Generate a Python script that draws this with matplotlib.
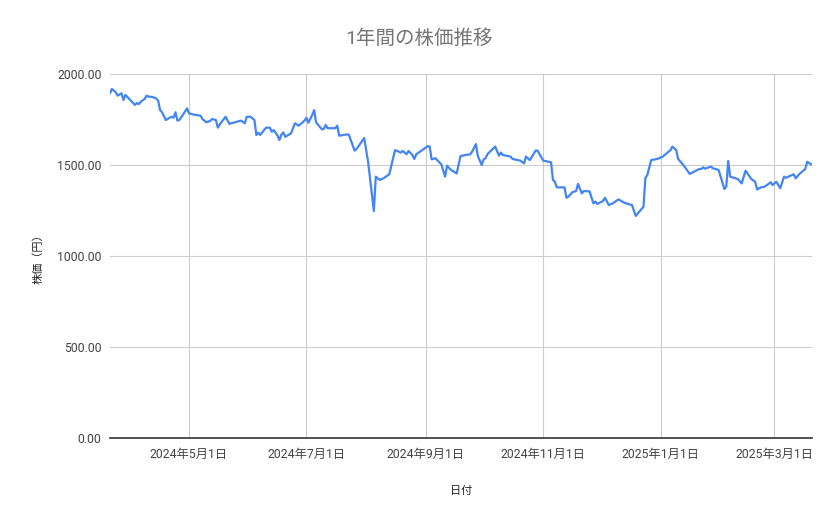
import matplotlib
matplotlib.use('Agg')
from matplotlib import pyplot as plt
import pandas as pd

plt.rcParams['font.family'] = ['Roboto', 'Noto Sans CJK JP', 'DejaVu Sans']

dates = [
    '2024-03-21', '2024-03-22', '2024-03-24', '2024-03-25', '2024-03-26', '2024-03-27',
    '2024-03-28', '2024-03-29', '2024-04-03', '2024-04-04', '2024-04-05', '2024-04-06',
    '2024-04-08', '2024-04-09', '2024-04-10', '2024-04-12', '2024-04-14', '2024-04-15',
    '2024-04-16', '2024-04-17', '2024-04-19', '2024-04-21', '2024-04-22', '2024-04-23',
    '2024-04-24', '2024-04-25', '2024-04-26', '2024-04-28', '2024-04-30', '2024-05-01',
    '2024-05-03', '2024-05-07', '2024-05-08', '2024-05-10', '2024-05-12', '2024-05-13',
    '2024-05-15', '2024-05-16', '2024-05-17', '2024-05-20', '2024-05-22', '2024-05-24',
    '2024-05-28', '2024-05-30', '2024-05-31', '2024-06-02', '2024-06-04', '2024-06-05',
    '2024-06-06', '2024-06-07', '2024-06-10', '2024-06-12', '2024-06-13', '2024-06-14',
    '2024-06-16', '2024-06-17', '2024-06-18', '2024-06-19', '2024-06-20', '2024-06-23',
    '2024-06-25', '2024-06-27', '2024-06-30', '2024-07-01', '2024-07-02', '2024-07-04',
    '2024-07-05', '2024-07-06', '2024-07-09', '2024-07-10', '2024-07-11', '2024-07-12',
    '2024-07-16', '2024-07-17', '2024-07-18', '2024-07-22', '2024-07-23', '2024-07-26',
    '2024-07-27', '2024-07-31', '2024-08-02', '2024-08-05', '2024-08-06', '2024-08-08',
    '2024-08-10', '2024-08-13', '2024-08-16', '2024-08-18', '2024-08-19', '2024-08-20',
    '2024-08-22', '2024-08-23', '2024-08-25', '2024-08-26', '2024-08-27', '2024-08-31',
    '2024-09-02', '2024-09-03', '2024-09-04', '2024-09-06', '2024-09-09', '2024-09-11',
    '2024-09-12', '2024-09-14', '2024-09-17', '2024-09-19', '2024-09-22', '2024-09-24',
    '2024-09-25', '2024-09-27', '2024-09-28', '2024-09-30', '2024-10-01', '2024-10-02',
    '2024-10-03', '2024-10-07', '2024-10-09', '2024-10-10', '2024-10-11', '2024-10-15',
    '2024-10-16', '2024-10-20', '2024-10-22', '2024-10-23', '2024-10-25', '2024-10-28',
    '2024-10-29', '2024-10-30', '2024-11-01', '2024-11-05', '2024-11-06', '2024-11-07',
    '2024-11-08', '2024-11-12', '2024-11-13', '2024-11-14', '2024-11-16', '2024-11-18',
    '2024-11-19', '2024-11-21', '2024-11-22', '2024-11-25', '2024-11-27', '2024-11-28',
    '2024-11-29', '2024-12-02', '2024-12-03', '2024-12-05', '2024-12-07', '2024-12-10',
    '2024-12-13', '2024-12-15', '2024-12-17', '2024-12-19', '2024-12-23', '2024-12-24',
    '2024-12-25', '2024-12-27', '2024-12-30', '2025-01-02', '2025-01-06', '2025-01-07',
    '2025-01-09', '2025-01-10', '2025-01-13', '2025-01-16', '2025-01-19', '2025-01-21',
    '2025-01-22', '2025-01-23', '2025-01-24', '2025-01-27', '2025-01-28', '2025-01-31',
    '2025-02-03', '2025-02-04', '2025-02-05', '2025-02-06', '2025-02-10', '2025-02-12',
    '2025-02-14', '2025-02-17', '2025-02-19', '2025-02-20', '2025-02-22', '2025-02-24',
    '2025-02-27', '2025-02-28', '2025-03-02', '2025-03-04', '2025-03-06', '2025-03-07',
    '2025-03-11', '2025-03-12', '2025-03-14', '2025-03-17', '2025-03-18', '2025-03-20',
]

prices = [
    1895, 1918, 1899, 1881, 1888, 1894,
    1857, 1885, 1830, 1841, 1834, 1848,
    1863, 1881, 1876, 1874, 1866, 1853,
    1802, 1790, 1747, 1760, 1765, 1760,
    1790, 1744, 1747, 1778, 1811, 1784,
    1778, 1771, 1753, 1735, 1742, 1753,
    1747, 1705, 1723, 1765, 1726, 1732,
    1744, 1729, 1765, 1765, 1747, 1665,
    1677, 1665, 1705, 1705, 1683, 1692,
    1661, 1637, 1668, 1679, 1655, 1674,
    1729, 1716, 1744, 1760, 1732, 1775,
    1802, 1734, 1696, 1698, 1720, 1702,
    1702, 1716, 1661, 1668, 1666, 1579,
    1588, 1648, 1518, 1247, 1436, 1418,
    1427, 1449, 1582, 1573, 1568, 1577,
    1559, 1577, 1555, 1533, 1559, 1588,
    1604, 1601, 1531, 1537, 1504, 1436,
    1496, 1473, 1454, 1549, 1556, 1558,
    1573, 1615, 1549, 1500, 1531, 1537,
    1560, 1601, 1551, 1568, 1555, 1546,
    1533, 1524, 1509, 1546, 1527, 1579,
    1579, 1560, 1524, 1515, 1418, 1408,
    1377, 1377, 1320, 1326, 1350, 1357,
    1396, 1344, 1357, 1355, 1289, 1299,
    1286, 1302, 1320, 1280, 1289, 1311,
    1293, 1286, 1280, 1220, 1271, 1430,
    1445, 1527, 1533, 1546, 1582, 1601,
    1582, 1533, 1496, 1451, 1467, 1478,
    1478, 1487, 1480, 1491, 1482, 1473,
    1368, 1381, 1522, 1436, 1423, 1399,
    1469, 1423, 1408, 1366, 1377, 1381,
    1405, 1390, 1408, 1372, 1436, 1430,
    1449, 1427, 1451, 1478, 1518, 1504,
]

tick_dates = ['2024-05-01', '2024-07-01', '2024-09-01', '2024-11-01', '2025-01-01', '2025-03-01']
y_ticks = [0, 500, 1000, 1500, 2000]

x = pd.to_datetime(dates)
ticks = pd.to_datetime(tick_dates)

fig = plt.figure(figsize=(8.39, 5.19), dpi=100)
ax = fig.add_axes([110 / 839, 1 - 438 / 519, 702 / 839, 364 / 519])

ax.plot(x, prices, color='#4285f4', linewidth=1.6, solid_joinstyle='round')

ax.set_xlim(pd.Timestamp('2024-03-21'), pd.Timestamp('2025-03-20 12:00'))
ax.set_ylim(0, 2000)
ax.set_yticks(y_ticks)
ax.set_yticklabels([f'{v:.2f}' for v in y_ticks])
ax.set_xticks(ticks)
ax.set_xticklabels([f'{d.year}年{d.month}月{d.day}日' for d in ticks])

# light grid like the spreadsheet chart, dark baseline only
ax.grid(True, color='#cccccc', linewidth=0.8)
ax.set_axisbelow(True)
for side in ['top', 'right', 'left']:
    ax.spines[side].set_visible(False)
ax.spines['bottom'].set_color('#333333')
ax.spines['bottom'].set_linewidth(1.2)
ax.tick_params(length=0, labelsize=8.8, colors='#444444')
ax.tick_params(axis='x', pad=7)
ax.tick_params(axis='y', pad=6)

ax.set_xlabel('日付', fontsize=8, color='#222222', labelpad=18)
ax.set_ylabel('株価（円）', fontsize=8, color='#222222', labelpad=10)

fig.text(0.5, 1 - 39 / 519, '1年間の株価推移', ha='center', va='center',
         fontsize=14, color='#757575')

plt.savefig('out.png', dpi=100)
